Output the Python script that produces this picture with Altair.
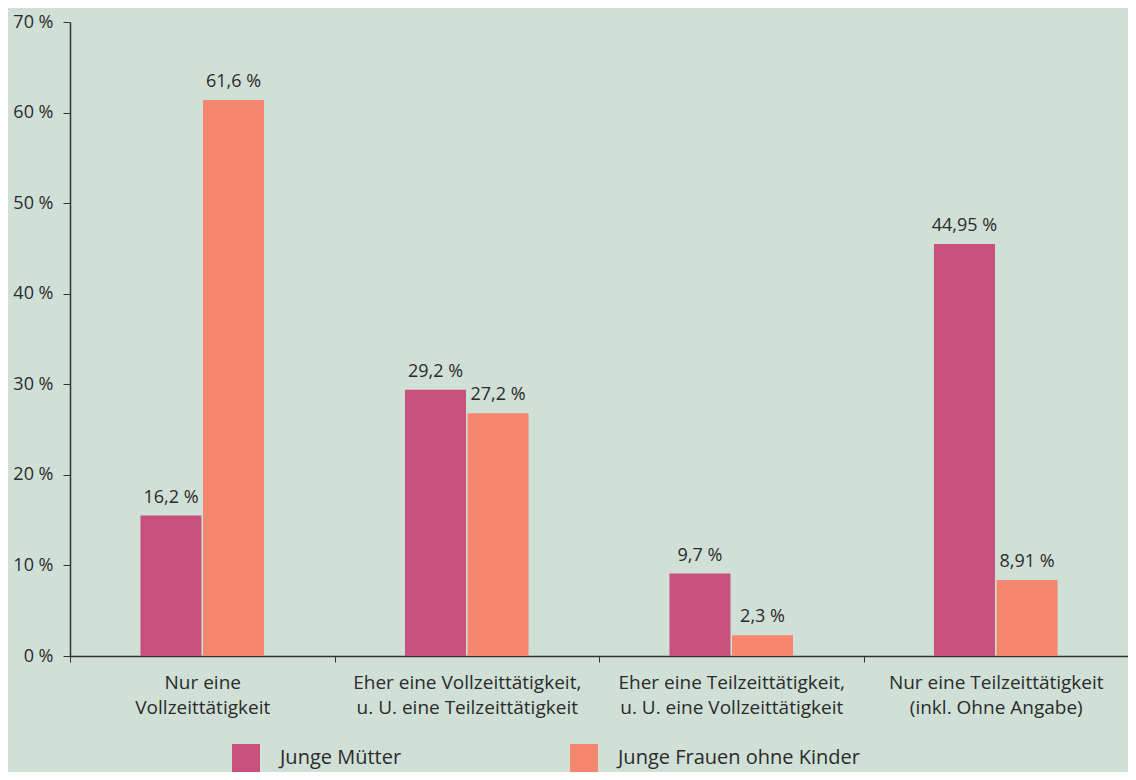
import altair as alt
import pandas as pd

FONT = "Open Sans"
TEXT_COLOR = "#2b2b2b"
BG = "#d0e0d7"

categories = [
    "Nur eine\nVollzeittätigkeit",
    "Eher eine Vollzeittätigkeit,\nu. U. eine Teilzeittätigkeit",
    "Eher eine Teilzeittätigkeit,\nu. U. eine Vollzeittätigkeit",
    "Nur eine Teilzeittätigkeit\n(inkl. Ohne Angabe)",
]
series = ["Junge Mütter", "Junge Frauen ohne Kinder"]
series_colors = ["#c8507c", "#f4876d"]

# bar heights as drawn in the picture
muetter_values = [15.5, 29.4, 9.1, 45.5]
frauen_values = [61.4, 26.8, 2.3, 8.4]
# printed value labels
muetter_labels = ["16,2 %", "29,2 %", "9,7 %", "44,95 %"]
frauen_labels = ["61,6 %", "27,2 %", "2,3 %", "8,91 %"]

y_ticks = [0, 10, 20, 30, 40, 50, 60, 70]

rows = []
for c, v, l in zip(categories, muetter_values, muetter_labels):
    rows.append({"Kategorie": c, "Gruppe": series[0], "Wert": v, "Label": l})
for c, v, l in zip(categories, frauen_values, frauen_labels):
    rows.append({"Kategorie": c, "Gruppe": series[1], "Wert": v, "Label": l})
df = pd.DataFrame(rows)

# empty slots on both sides of the pair of bars inside each category
offset_domain = ["_links"] + series + ["_rechts"]

base = alt.Chart(df).encode(
    x=alt.X(
        "Kategorie:N",
        sort=categories,
        scale=alt.Scale(paddingInner=0, paddingOuter=0),
        axis=alt.Axis(
            title=None,
            labelAngle=0,
            tickBand="extent",
            labelExpr="split(datum.label, '\\n')",
            labelFont=FONT,
            labelFontSize=19,
            labelColor=TEXT_COLOR,
            labelLineHeight=25,
            labelPadding=11,
            labelBaseline="top",
            tickSize=6,
            tickColor="#333333",
            domainColor="#333333",
            domainWidth=1.5,
            labelLimit=400,
        ),
    ),
    xOffset=alt.XOffset(
        "Gruppe:N",
        scale=alt.Scale(domain=offset_domain, paddingInner=0.025, paddingOuter=0.1265),
    ),
    y=alt.Y(
        "Wert:Q",
        scale=alt.Scale(domain=[0, 70], nice=False),
        axis=alt.Axis(
            title=None,
            values=y_ticks,
            labelExpr="datum.value + ' %'",
            grid=False,
            labelFont=FONT,
            labelFontSize=18,
            labelColor=TEXT_COLOR,
            labelPadding=10,
            tickSize=7,
            tickColor="#333333",
            domainColor="#333333",
            domainWidth=1.5,
        ),
    ),
)

bars = base.mark_bar().encode(
    color=alt.Color(
        "Gruppe:N",
        sort=series,
        scale=alt.Scale(domain=series, range=series_colors),
        legend=alt.Legend(
            title=None,
            orient="none",
            legendX=162,
            legendY=722,
            direction="horizontal",
            symbolType="square",
            symbolSize=784,
            symbolStrokeWidth=0,
            symbolOpacity=1,
            labelFont=FONT,
            labelFontSize=20,
            labelColor=TEXT_COLOR,
            labelOffset=20,
            columnPadding=48,
            gridAlign="all",
            labelLimit=400,
        ),
    )
)

text = base.mark_text(
    dy=-13, baseline="alphabetic", fontSize=18, font=FONT, color=TEXT_COLOR
).encode(text="Label:N")

chart = (
    alt.layer(bars, text)
    .properties(
        width=1058,
        height=634,
        background=BG,
        padding={"left": 62, "top": 14, "right": 0, "bottom": 116},
        autosize=alt.AutoSizeParams(type="none"),
    )
    .configure_view(stroke=None)
)

chart.save("out.html", embed_options={"renderer": "svg", "actions": False})
